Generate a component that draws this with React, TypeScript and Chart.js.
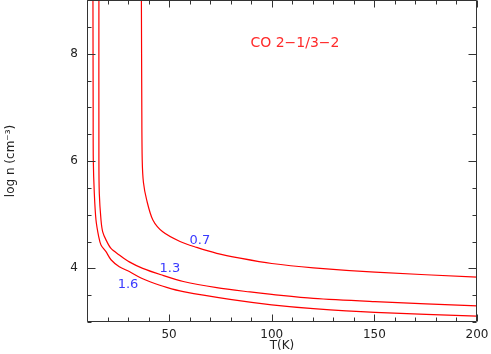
import { useEffect, useRef } from 'react';
import { Chart, registerables } from 'chart.js';

Chart.register(...registerables);

// Contour 1.6
const t16 = [12.9, 13.0, 13.07, 13.56, 14.38, 15.70, 16.82, 19.26, 21.69, 25.74, 30.61, 36.31, 40.69, 48.8, 56.92, 79.67, 100, 120.3, 150.3, 200];
const n16 = [9.0, 7.0, 6.02, 5.40, 4.90, 4.59, 4.435, 4.31, 4.16, 4.03, 3.94, 3.82, 3.75, 3.645, 3.565, 3.42, 3.32, 3.25, 3.18, 3.11];
// Contour 1.3
const t13 = [15.8, 15.8, 15.99, 16.82, 17.65, 19.26, 21.69, 25.74, 30.61, 37.14, 46.05, 56.92, 73.19, 89.41, 100, 120.3, 150.3, 200];
const n13 = [9.0, 6.02, 5.40, 4.90, 4.68, 4.53, 4.37, 4.25, 4.12, 4.00, 3.88, 3.755, 3.64, 3.56, 3.515, 3.44, 3.38, 3.30];
// Contour 0.7
const t07 = [36.5, 36.7, 36.9, 37.5, 39.09, 42.1, 46.9, 55.31, 63.44, 73.19, 84.54, 100, 120.3, 150.3, 200];
const n07 = [9.0, 7.0, 6.02, 5.6, 5.27, 4.90, 4.68, 4.50, 4.39, 4.28, 4.19, 4.09, 4.01, 3.93, 3.835];

const contourLabels = ['0.7', '1.3', '1.6'];
const contourLabelT = [65.0, 50.4, 30.0];
const contourLabelN = [4.51, 4.0, 3.70];

const titleText = 'CO 2\u22121/3\u22122';
const titleT = 111.3;
const titleN = 8.2;

const xTicks = [50, 100, 150, 200];
const yTicks = [4, 6, 8];
const xMinorTicks = [10, 20, 30, 40, 60, 70, 80, 90, 110, 120, 130, 140, 160, 170, 180, 190];
const yMinorTicks = [3, 3.5, 4.5, 5, 5.5, 6.5, 7, 7.5, 8.5, 9];

const toPoints = (xs: number[], ys: number[]) => xs.map((x, i) => ({ x, y: ys[i] }));

const FONT = '"DejaVu Sans", sans-serif';
const AXIS = '#333333';

const framePlugin = {
  id: 'frameTicks',
  afterDraw(chart: any) {
    const ctx = chart.ctx;
    const { left, right, top, bottom } = chart.chartArea;
    const xs = chart.scales.x;
    const ys = chart.scales.y;
    ctx.save();
    ctx.strokeStyle = AXIS;
    ctx.lineWidth = 1;
    ctx.beginPath();
    const L = Math.round(left) + 0.5;
    const R = Math.round(right) - 0.5;
    const T = Math.round(top) + 0.5;
    const B = Math.round(bottom) - 0.5;
    ctx.moveTo(L, T); ctx.lineTo(R, T); ctx.lineTo(R, B); ctx.lineTo(L, B); ctx.closePath();
    const xt = (v: number, len: number) => {
      const p = Math.round(xs.getPixelForValue(v)) + 0.5;
      ctx.moveTo(p, B); ctx.lineTo(p, B - len);
      ctx.moveTo(p, T); ctx.lineTo(p, T + len);
    };
    const yt = (v: number, len: number) => {
      const p = Math.round(ys.getPixelForValue(v)) + 0.5;
      ctx.moveTo(L, p); ctx.lineTo(L + len, p);
      ctx.moveTo(R, p); ctx.lineTo(R - len, p);
    };
    xTicks.forEach(v => xt(v, 7));
    xMinorTicks.forEach(v => xt(v, 4));
    yTicks.forEach(v => yt(v, 8));
    yMinorTicks.forEach(v => yt(v, 4));
    ctx.stroke();

    ctx.textAlign = 'center';
    ctx.textBaseline = 'middle';
    ctx.font = `13px ${FONT}`;
    ctx.fillStyle = '#3a3aff';
    contourLabels.forEach((s, i) => {
      ctx.fillText(s, xs.getPixelForValue(contourLabelT[i]), ys.getPixelForValue(contourLabelN[i]));
    });
    ctx.font = `14px ${FONT}`;
    ctx.fillStyle = '#ff2a2a';
    ctx.fillText(titleText, xs.getPixelForValue(titleT), ys.getPixelForValue(titleN));
    ctx.restore();
  },
};

const zeroPad = (s: any) => {
  s.paddingTop = 0;
  s.paddingBottom = 0;
  s.paddingLeft = 0;
  s.paddingRight = 0;
};

export default function App() {
  const ref = useRef<HTMLCanvasElement | null>(null);
  useEffect(() => {
    document.body.style.margin = '0';
    if (!ref.current) return;
    const line = (data: { x: number; y: number }[]) => ({
      data,
      showLine: true,
      borderColor: '#ff0000',
      borderWidth: 1.2,
      pointRadius: 0,
      tension: 0.3,
      fill: false,
    });
    const chart = new Chart(ref.current, {
      type: 'scatter',
      data: {
        datasets: [line(toPoints(t16, n16)), line(toPoints(t13, n13)), line(toPoints(t07, n07))],
      },
      options: {
        animation: false,
        responsive: false,
        devicePixelRatio: 1,
        layout: { padding: { top: 0, right: 14, left: 0, bottom: 0 } },
        plugins: { legend: { display: false }, tooltip: { enabled: false } },
        scales: {
          x: {
            type: 'linear',
            min: 10,
            max: 200,
            grid: { display: false, drawTicks: false },
            border: { display: false },
            afterBuildTicks: (s: any) => { s.ticks = xTicks.map(v => ({ value: v })); },
            afterFit: (s: any) => { s.height = 32; zeroPad(s); },
            ticks: { font: { family: FONT, size: 12 }, color: '#222', padding: 6, maxRotation: 0 },
            title: { display: true, text: 'T(K)', font: { family: FONT, size: 12 }, color: '#222', padding: { top: 0, bottom: 1 } },
          },
          y: {
            type: 'linear',
            min: 3,
            max: 9,
            grid: { display: false, drawTicks: false },
            border: { display: false },
            afterBuildTicks: (s: any) => { s.ticks = yTicks.map(v => ({ value: v })); },
            afterFit: (s: any) => { s.width = 87; zeroPad(s); },
            ticks: { font: { family: FONT, size: 12 }, color: '#222', padding: 9 },
            title: { display: true, text: 'log n (cm\u207B\u00B3)', font: { family: FONT, size: 12 }, color: '#222', padding: { top: 4, bottom: 0 } },
          },
        },
      },
      plugins: [framePlugin],
    });
    return () => chart.destroy();
  }, []);
  return (
    <div style={{ position: 'absolute', left: 0, top: 0, width: 491, height: 354, background: '#fff' }}>
      <canvas ref={ref} width={491} height={354} />
    </div>
  );
}
